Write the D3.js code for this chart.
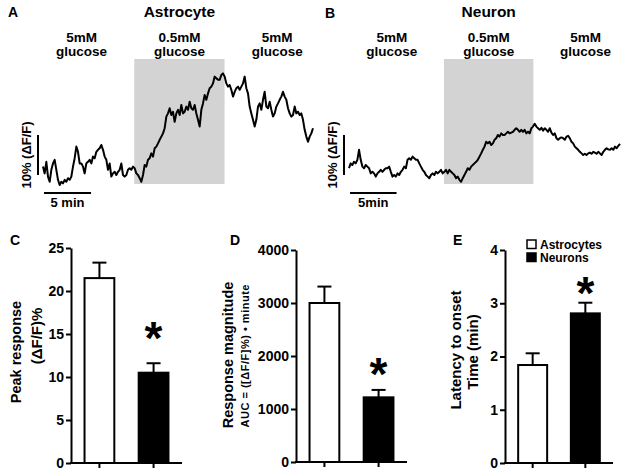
<!DOCTYPE html>
<html>
<head>
<meta charset="utf-8">
<script src="https://cdn.jsdelivr.net/npm/d3@7"></script>
<style>
  body { margin: 0; background: #fff; }
  svg { display: block; font-family: "Liberation Sans", Arial, sans-serif; }
</style>
</head>
<body>
<div id="chart"></div>
<script>
// ---- trace data: ΔF/F (%) sampled evenly over the recording ----
const astroTrace = [4.6, 2.9, 5.8, 2.1, 0.8, 3.8, 5.4, 6.3, 3.8, 1.3, 0, 0.8, 0.4, 1.3, 0.8, 1.7, 1.3, 2.1,
  4.6, 6.7, 9.6, 8.3, 5.4, 5.4, 4.6, 2.9, 5.4, 5.8, 6.3, 5.4, 7.1, 6.7, 8.3, 8.8, 9.2, 10, 8.8, 7.1, 6.3,
  3.8, 5.4, 2.1, 2.9, 3.3, 2.5, 3.3, 3.8, 5.4, 2.5, 2.1, 2.5, 3.8, 4.2, 3.8, 4.6, 4.2, 2.9, 2.5, 1.7, 0.8,
  2.5, 5, 4.6, 6.3, 6.7, 7.9, 7.1, 9.2, 9.6, 10.4, 11.3, 12.1, 12.9, 14.2, 17.1, 17.9, 19.2, 17.5, 18.3,
  15.8, 17.9, 18.8, 17.5, 20, 17.9, 18.3, 19.6, 18.8, 20.8, 19.2, 18.8, 20, 17.9, 16.3, 14.6, 18.8, 20.4,
  22.5, 21.3, 22.9, 24.2, 24.6, 25.4, 27.1, 26.7, 26.3, 26.3, 27.5, 27.9, 27.1, 25.4, 24.6, 25, 23.8, 22.1,
  23.3, 24.2, 24.6, 23.8, 24.6, 25.4, 27.1, 24.2, 22.9, 19.6, 17.9, 16.3, 14.6, 16.3, 19.6, 20.4, 18.8,
  21.3, 23.3, 19.6, 19.2, 20.8, 18.8, 17.1, 17.9, 19.6, 20.4, 21.3, 22.1, 23.3, 22.1, 21.3, 19.2, 17.9,
  17.1, 17.5, 19.6, 17.9, 18.3, 17.5, 17.9, 16.3, 13.8, 12.1, 10.8, 12.1, 12.9, 14.2];
const astroMinutes = 28.7;
const astroLowGlucose = [9.7, 19.3];

const neuronTrace = [4.2, 5.4, 5, 5.8, 5.4, 6.3, 8.8, 6.3, 4.6, 4.2, 5, 4.6, 4.2, 2.9, 3.3, 2.9, 2.1, 2.9,
  3.3, 3.8, 3.3, 3.8, 4.2, 4.2, 4.6, 3.3, 2.1, 2.5, 2.1, 2.9, 2.5, 3.3, 3.8, 4.6, 4.2, 6.3, 6.7, 6.3, 7.1,
  6.7, 6.3, 6.3, 5.4, 4.6, 3.8, 3.3, 2.5, 2.1, 1.7, 2.5, 2.9, 2.5, 3.3, 2.9, 3.3, 3.8, 2.9, 3.3, 3.8, 2.9,
  3.8, 3.3, 2.9, 2.5, 1.7, 2.1, 1.3, 0.8, 1.7, 2.5, 3.3, 4.2, 3.8, 4.6, 5, 5.4, 5.8, 6.3, 7.1, 7.9, 8.8,
  9.6, 10.8, 10.4, 10.8, 10, 10.4, 11.3, 11.7, 12.5, 12.1, 12.9, 12.5, 12.5, 12.9, 13.3, 12.9, 13.1, 13.3,
  13.8, 14.2, 13.8, 13.3, 13.8, 13.3, 13.8, 12.9, 13.3, 12.9, 14.2, 14.6, 15.3, 14.6, 14.2, 13.8, 14.3,
  13.6, 14.2, 13.8, 13.3, 14.2, 13.1, 12.5, 12.9, 11.7, 11.3, 11.7, 11.9, 11.7, 11.3, 12.1, 12.3, 11.7,
  10.8, 10.4, 9.6, 9.2, 8.8, 8.3, 7.9, 7.5, 7.8, 7.5, 7.9, 8.1, 7.8, 8.3, 8.1, 7.8, 8.3, 7.9, 7.5, 8.3,
  8.8, 9.2, 8.9, 8.8, 9.2, 8.8, 9.6, 9.2, 9.8, 10.3];
const neuronMinutes = 29.1;
const neuronLowGlucose = [10.2, 19.8];

const conditionLabels = ["5mM", "0.5mM", "5mM"];

// ---- summary data: mean and SEM, astrocytes vs neurons ----
const groups = ["Astrocytes", "Neurons"];
const peakMean = [21.5, 10.5];
const peakSem = [1.8, 1.1];
const aucMean = [3000, 1220];
const aucSem = [310, 140];
const latencyMean = [1.84, 2.81];
const latencySem = [0.22, 0.2];

const peakTicks = [0, 5, 10, 15, 20, 25];
const aucTicks = [0, 1000, 2000, 3000, 4000];
const latencyTicks = [0, 1, 2, 3, 4];

const svg = d3.select("#chart").append("svg")
    .attr("width", 624)
    .attr("height", 472);

function panelLetter(txt, x, y) {
    svg.append("text").attr("x", x).attr("y", y)
        .attr("font-size", 14).attr("font-weight", "bold").text(txt);
}

function drawTrace(cfg) {
    const x = d3.scaleLinear().domain([0, cfg.minutes]).range([cfg.left, cfg.right]);
    const y = d3.scaleLinear().domain([0, 10]).range([185, 145]);
    const n = cfg.values.length;
    const pts = cfg.values.map((v, i) => [i * cfg.minutes / (n - 1), v]);
    const g = svg.append("g");

    // low glucose window
    g.append("rect")
        .attr("x", x(cfg.window[0]))
        .attr("width", x(cfg.window[1]) - x(cfg.window[0]))
        .attr("y", 59).attr("height", 125)
        .attr("fill", "#d3d3d3");

    g.append("path").datum(pts)
        .attr("d", d3.line().x(d => x(d[0])).y(d => y(d[1])))
        .attr("fill", "none")
        .attr("stroke", "#000")
        .attr("stroke-width", 2)
        .attr("stroke-linejoin", "round");

    const mid = (cfg.window[0] + cfg.window[1]) / 2;
    g.append("text").attr("x", x(mid)).attr("y", 17)
        .attr("text-anchor", "middle").attr("font-size", 15.5).attr("font-weight", "bold")
        .text(cfg.title);

    const labelT = [cfg.window[0] - 5.6, mid, cfg.window[1] + 5.6];
    conditionLabels.forEach((lab, i) => {
        const t = g.append("text").attr("text-anchor", "middle")
            .attr("font-size", 13.5).attr("font-weight", "bold");
        t.append("tspan").attr("x", x(labelT[i])).attr("y", 42).text(lab);
        t.append("tspan").attr("x", x(labelT[i])).attr("y", 56).text("glucose");
    });

    // scale bars: 10% and 5 min
    g.append("line").attr("x1", cfg.left - 5).attr("x2", cfg.left - 5)
        .attr("y1", y(2.5)).attr("y2", y(12.5))
        .attr("stroke", "#000").attr("stroke-width", 2);
    g.append("text")
        .attr("transform", "translate(" + (cfg.left - 12) + "," + y(7.5) + ") rotate(-90)")
        .attr("text-anchor", "middle").attr("font-size", 13).attr("font-weight", "bold")
        .text("10% (ΔF/F)");
    g.append("line").attr("x1", x(0) + 1).attr("x2", x(5) + 1)
        .attr("y1", 193).attr("y2", 193)
        .attr("stroke", "#000").attr("stroke-width", 2);
    g.append("text").attr("x", (x(0) + x(5)) / 2 + 1).attr("y", 207)
        .attr("text-anchor", "middle").attr("font-size", 13).attr("font-weight", "bold")
        .text(cfg.barLabel);
}

function drawBars(cfg) {
    const x = d3.scaleBand().domain(groups).range([cfg.left, cfg.right])
        .paddingInner(0.45).paddingOuter(0.25);
    const y = d3.scaleLinear().domain([0, d3.max(cfg.ticks)]).range([cfg.bottom, cfg.top]);
    const g = svg.append("g");

    g.selectAll(".bar").data(groups).enter().append("rect")
        .attr("class", "bar")
        .attr("x", d => x(d))
        .attr("y", (d, i) => y(cfg.mean[i]))
        .attr("width", x.bandwidth())
        .attr("height", (d, i) => y(0) - y(cfg.mean[i]))
        .attr("fill", (d, i) => i === 0 ? "#fff" : "#000")
        .attr("stroke", "#000").attr("stroke-width", 2);

    // error bars (upper only)
    groups.forEach((d, i) => {
        const cx = x(d) + x.bandwidth() / 2;
        g.append("line").attr("x1", cx).attr("x2", cx)
            .attr("y1", y(cfg.mean[i])).attr("y2", y(cfg.mean[i] + cfg.sem[i]))
            .attr("stroke", "#000").attr("stroke-width", 2);
        g.append("line").attr("x1", cx - 7).attr("x2", cx + 7)
            .attr("y1", y(cfg.mean[i] + cfg.sem[i])).attr("y2", y(cfg.mean[i] + cfg.sem[i]))
            .attr("stroke", "#000").attr("stroke-width", 2);
    });

    const yAxis = g.append("g")
        .attr("transform", "translate(" + cfg.left + ",0)")
        .call(d3.axisLeft(y).tickValues(cfg.ticks).tickFormat(d3.format("d"))
            .tickSize(5).tickSizeOuter(0).tickPadding(2));
    const xAxis = g.append("g")
        .attr("transform", "translate(0," + cfg.bottom + ")")
        .call(d3.axisBottom(x).tickSize(5).tickSizeOuter(0).tickFormat(""));
    [yAxis, xAxis].forEach(a => {
        a.select(".domain").attr("stroke-width", 2);
        a.selectAll(".tick line").attr("stroke-width", 2);
    });
    xAxis.select(".domain").attr("d", "M" + (cfg.left - 1) + ",0H" + cfg.right);
    yAxis.selectAll(".tick text")
        .attr("font-size", 14).attr("font-weight", "bold")
        .attr("font-family", "Liberation Sans, Arial, sans-serif").attr("fill", "#000");

    // significance star on the neuron bar
    const sx = x(groups[1]) + x.bandwidth() / 2;
    g.append("text").attr("x", sx).attr("y", y(cfg.mean[1] + cfg.sem[1]) - cfg.starGap + 22)
        .attr("text-anchor", "middle").attr("font-size", 46).attr("font-weight", "bold")
        .text("*");

    cfg.labels.forEach(l => {
        g.append("text")
            .attr("transform", "translate(" + l.x + "," + l.y + ") rotate(-90)")
            .attr("text-anchor", "middle")
            .attr("font-size", l.size).attr("font-weight", l.weight || "bold")
            .attr("textLength", l.len || null)
            .attr("lengthAdjust", "spacing")
            .text(l.text);
    });
}

drawTrace({ values: astroTrace, minutes: astroMinutes, window: astroLowGlucose,
    left: 43, right: 313, title: "Astrocyte", barLabel: "5 min" });
drawTrace({ values: neuronTrace, minutes: neuronMinutes, window: neuronLowGlucose,
    left: 349, right: 620, title: "Neuron", barLabel: "5min" });

drawBars({ mean: peakMean, sem: peakSem, ticks: peakTicks,
    left: 71, right: 182, top: 248, bottom: 463, starGap: 31,
    labels: [
        { text: "Peak response", x: 21, y: 352, size: 14.5 },
        { text: "(ΔF/F)%", x: 42, y: 336, size: 15 }
    ] });
drawBars({ mean: aucMean, sem: aucSem, ticks: aucTicks,
    left: 296, right: 407, top: 250, bottom: 462, starGap: 22,
    labels: [
        { text: "Response magnitude", x: 233, y: 355, size: 14.5 },
        { text: "AUC = ([ΔF/F]%) • minute", x: 249, y: 356, size: 11, weight: 600, len: 143 }
    ] });
drawBars({ mean: latencyMean, sem: latencySem, ticks: latencyTicks,
    left: 505, right: 613, top: 250, bottom: 463, starGap: 16,
    labels: [
        { text: "Latency to onset", x: 461, y: 350, size: 15 },
        { text: "Time (min)", x: 478, y: 352, size: 15 }
    ] });

// legend in panel E
groups.forEach((gname, i) => {
    svg.append("rect").attr("x", 527).attr("y", 240 + i * 13).attr("width", 9).attr("height", 8.5)
        .attr("fill", i === 0 ? "#fff" : "#000").attr("stroke", "#000").attr("stroke-width", 1.5);
    svg.append("text").attr("x", 540).attr("y", 248.5 + i * 13)
        .attr("font-size", 12).attr("font-weight", "bold").text(gname);
});

panelLetter("A", 8, 17);
panelLetter("B", 325, 18);
panelLetter("C", 10, 245);
panelLetter("D", 230, 245);
panelLetter("E", 453, 245);
</script>
</body>
</html>
